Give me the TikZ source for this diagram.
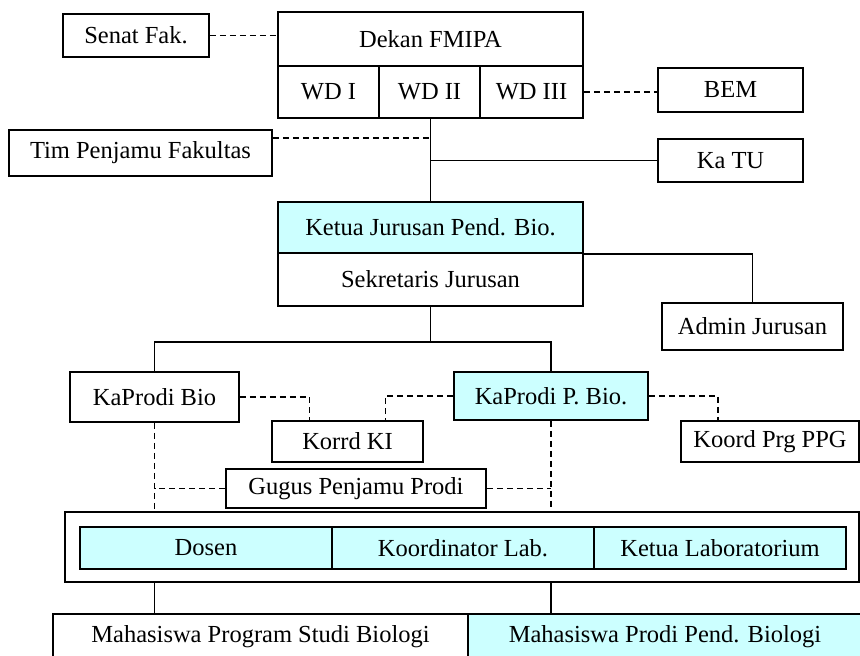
\documentclass[tikz,border=0pt]{standalone}
\usepackage{fontspec}
\setmainfont{Liberation Serif}
\definecolor{birumuda}{HTML}{CCFFFF}

\begin{document}
\begin{tikzpicture}[x=1pt,y=-1pt,
  kotak/.style={draw, line width=1.8pt, inner sep=0pt, font=\fontsize{24.5}{28}\selectfont},
  biru/.style={kotak, fill=birumuda},
  garis/.style={line width=1.6pt},
  putus/.style={garis, dashed, dash pattern=on 6pt off 4pt}]
\useasboundingbox (0,0) rectangle (860,656);
% fakultas
\node[kotak, minimum width=146pt, minimum height=43pt] (senat) at (136,35.5) {Senat Fak.};
\node[kotak, minimum width=305pt, minimum height=54pt] (dekan) at (430.5,39) {Dekan FMIPA};
\node[kotak, minimum width=101pt, minimum height=52pt] (wda) at (328.5,92) {WD I};
\node[kotak, minimum width=101pt, minimum height=52pt] (wdb) at (429.5,92) {WD II};
\node[kotak, minimum width=103pt, minimum height=52pt] (wdc) at (531.5,92) {WD III};
\node[kotak, minimum width=145pt, minimum height=44pt] (bem) at (730.5,90) {BEM};
\node[kotak, minimum width=263pt, minimum height=46pt] (tim) at (140.5,153) {Tim Penjamu Fakultas};
\node[kotak, minimum width=145pt, minimum height=43pt] (katu) at (730.5,160.5) {Ka TU};
% jurusan
\node[biru, minimum width=305pt, minimum height=51pt] (ketua) at (430.5,227.5) {Ketua Jurusan Pend. Bio.};
\node[kotak, minimum width=305pt, minimum height=53pt] (sekjur) at (430.5,279.5) {Sekretaris Jurusan};
\node[kotak, minimum width=181pt, minimum height=47pt] (admin) at (752.5,326.5) {Admin Jurusan};
% prodi
\node[kotak, minimum width=169pt, minimum height=50pt] (kpbio) at (154.5,397) {KaProdi Bio};
\node[biru, minimum width=194pt, minimum height=48pt] (kppbio) at (551,396) {KaProdi P. Bio.};
\node[kotak, minimum width=151pt, minimum height=41pt] (korrd) at (347.5,441.5) {Korrd KI};
\node[kotak, minimum width=178pt, minimum height=41pt] (ppg) at (770,441.5) {Koord Prg PPG};
\node[kotak, minimum width=260pt, minimum height=39pt] (gugus) at (356,488.5) {Gugus Penjamu Prodi};
\node[kotak, minimum width=794pt, minimum height=70pt] (luar) at (462,547) {};
\node[biru, minimum width=252pt, minimum height=42pt] (dosen) at (206,548) {Dosen};
\node[biru, minimum width=262pt, minimum height=42pt] (koorlab) at (463,548) {Koordinator Lab.};
\node[biru, minimum width=252pt, minimum height=42pt] (ketlab) at (720,548) {Ketua Laboratorium};
% mahasiswa
\node[kotak, minimum width=415pt, minimum height=46pt] (mhsa) at (260.5,637) {Mahasiswa Program Studi Biologi};
\node[biru, minimum width=394pt, minimum height=46pt] (mhsb) at (665,637) {Mahasiswa Prodi Pend. Biologi};

\draw[putus] (senat.east) -- (senat.east -| dekan.west);
\draw[putus] (wdc.east) -- (wdc.east -| bem.west);
\draw[garis] (ketua.north) -- (ketua.north |- wdb.south);
\draw[putus] ([yshift=-9pt]tim.north east) -- ([yshift=-9pt]tim.north east -| ketua.north);
\draw[garis] (katu.west) -- (katu.west -| ketua.north);
\draw[garis] (ketua.south east) -| (admin.north);
\draw[garis] (sekjur.south) -- ++(0,35) coordinate (cabang);
\draw[garis] (kpbio.north) |- (cabang) -| (kppbio.north);
\draw[putus] (kpbio.east) -| ([xshift=-38pt]korrd.north);
\draw[putus] (kppbio.west) -| ([xshift=38pt]korrd.north);
\draw[putus] (kppbio.east) -| ([xshift=38pt]ppg.north west);
\draw[putus] (kpbio.south) -- (kpbio.south |- gugus.south);
\draw[putus] (kppbio.south) -- (kppbio.south |- gugus.south);
\draw[putus] (gugus.west) -- (gugus.west -| kpbio.south);
\draw[putus] (gugus.east) -- (gugus.east -| kppbio.south);
\draw[garis] (luar.south -| kpbio.south) -- (mhsa.north -| kpbio.south);
\draw[garis] (luar.south -| kppbio.south) -- (mhsb.north -| kppbio.south);
\end{tikzpicture}
\end{document}
